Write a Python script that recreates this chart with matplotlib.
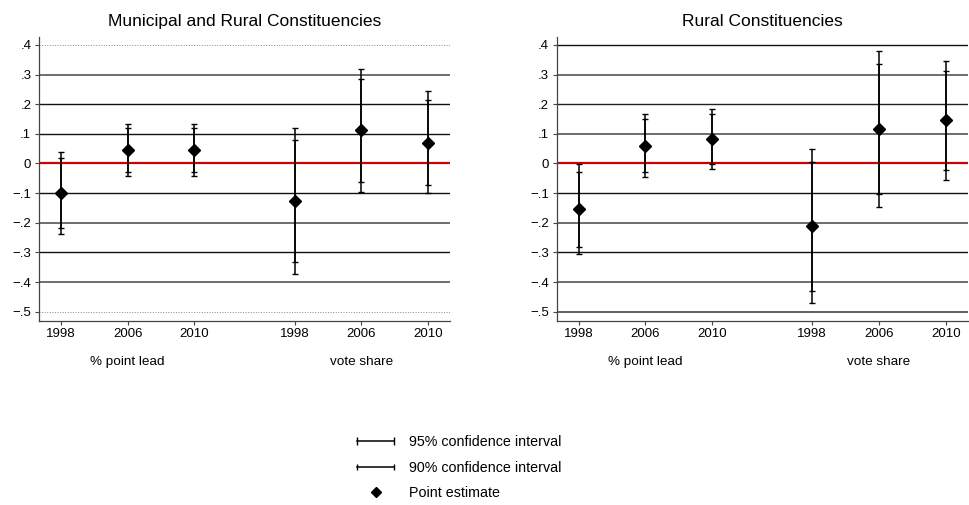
import numpy as np
import matplotlib.pyplot as plt
from matplotlib.lines import Line2D
from matplotlib.legend_handler import HandlerLine2D

plt.rcParams['font.family'] = ['Liberation Sans', 'DejaVu Sans']

# posiciones y etiquetas del eje x
xpos = [1, 2, 3, 4.5, 5.5, 6.5]
years = ["1998", "2006", "2010", "1998", "2006", "2010"]
groups = ["% point lead", "vote share"]
group_x = [2, 5.5]

# Municipal and Rural Constituencies
est_all = [-0.100, 0.045, 0.045, -0.128, 0.113, 0.070]
lo95_all = [-0.239, -0.043, -0.042, -0.373, -0.095, -0.101]
hi95_all = [0.040, 0.132, 0.132, 0.119, 0.320, 0.243]
lo90_all = [-0.216, -0.030, -0.029, -0.333, -0.061, -0.073]
hi90_all = [0.018, 0.119, 0.119, 0.078, 0.286, 0.214]

# Rural Constituencies
est_rur = [-0.155, 0.060, 0.084, -0.212, 0.116, 0.145]
lo95_rur = [-0.306, -0.047, -0.018, -0.471, -0.147, -0.054]
hi95_rur = [-0.003, 0.168, 0.185, 0.048, 0.379, 0.344]
lo90_rur = [-0.281, -0.030, -0.002, -0.429, -0.103, -0.021]
hi90_rur = [-0.027, 0.150, 0.168, 0.005, 0.336, 0.311]

yticks = [0.4, 0.3, 0.2, 0.1, 0, -0.1, -0.2, -0.3, -0.4, -0.5]
ytick_labels = [".4", ".3", ".2", ".1", "0", "\u2212.1", "\u2212.2", "\u2212.3", "\u2212.4", "\u2212.5"]

# estilo de las lineas horizontales (color, ancho, estilo)
grid_all = [("#888888", 0.7, ":"), ("#555555", 1.2, "-"), ("#111111", 1.0, "-"), ("#111111", 1.0, "-"),
            None, ("#111111", 1.0, "-"), ("#555555", 1.2, "-"), ("#111111", 1.0, "-"),
            ("#555555", 1.2, "-"), ("#888888", 0.7, ":")]
grid_rur = [("#111111", 1.0, "-"), ("#555555", 1.2, "-"), ("#222222", 1.0, "-"), ("#444444", 1.1, "-"),
            None, ("#111111", 1.0, "-"), ("#555555", 1.2, "-"), ("#111111", 1.0, "-"),
            ("#555555", 1.2, "-"), ("#333333", 1.1, "-")]

fig = plt.figure(figsize=(9.69, 5.05), dpi=100)
ax1 = fig.add_axes([0.0402, 0.365, 0.4242, 0.562])
ax2 = fig.add_axes([0.5745, 0.365, 0.4242, 0.562])


def panel(ax, title, est, lo95, hi95, lo90, hi90, grid):
    for y, g in zip(yticks, grid):
        if g is None:
            ax.axhline(y, color="#cc0000", lw=1.6, zorder=1)
        else:
            ax.axhline(y, color=g[0], lw=g[1], ls=g[2], zorder=1)
    est = np.array(est)
    ax.errorbar(xpos, est, yerr=[est - np.array(lo95), np.array(hi95) - est], fmt="none",
                ecolor="black", elinewidth=1.1, capsize=2.3, capthick=1.0, zorder=3)
    ax.errorbar(xpos, est, yerr=[est - np.array(lo90), np.array(hi90) - est], fmt="none",
                ecolor="black", elinewidth=1.1, capsize=2.0, capthick=1.0, zorder=3)
    ax.plot(xpos, est, "D", color="black", ms=6.5, zorder=4)
    ax.set_xlim(0.67, 6.83)
    ax.set_ylim(-0.53, 0.427)
    ax.set_xticks(xpos)
    ax.set_xticklabels(years)
    ax.set_yticks(yticks)
    ax.set_yticklabels(ytick_labels)
    ax.tick_params(labelsize=9.5, length=3, width=0.8, color="#444444", pad=2.5)
    for s in ["top", "right"]:
        ax.spines[s].set_visible(False)
    for s in ["left", "bottom"]:
        ax.spines[s].set_color("#444444")
        ax.spines[s].set_linewidth(0.9)
    for gx, gl in zip(group_x, groups):
        ax.text(gx, -0.146, gl, transform=ax.get_xaxis_transform(), ha="center", va="center",
                fontsize=9.7)
    ax.set_title(title, fontsize=12.5, pad=8)


panel(ax1, "Municipal and Rural Constituencies", est_all, lo95_all, hi95_all, lo90_all, hi90_all, grid_all)
panel(ax2, "Rural Constituencies", est_rur, lo95_rur, hi95_rur, lo90_rur, hi90_rur, grid_rur)

# leyenda
h95 = Line2D([], [], color="black", lw=1.1, marker="|", ms=6, mew=1.0)
h90 = Line2D([], [], color="black", lw=1.1, marker="|", ms=4.5, mew=1.0)
hpt = Line2D([], [], color="black", lw=0, marker="D", ms=5.5)
fig.legend([h95, h90, hpt], ["95% confidence interval", "90% confidence interval", "Point estimate"],
           loc="upper left", bbox_to_anchor=(0.364, 0.139), frameon=False, fontsize=10.3,
           numpoints=2, handlelength=3.2, handletextpad=0.75, labelspacing=0.82,
           borderpad=0, borderaxespad=0,
           handler_map={hpt: HandlerLine2D(numpoints=1)})

fig.savefig("out.png", dpi=100)
